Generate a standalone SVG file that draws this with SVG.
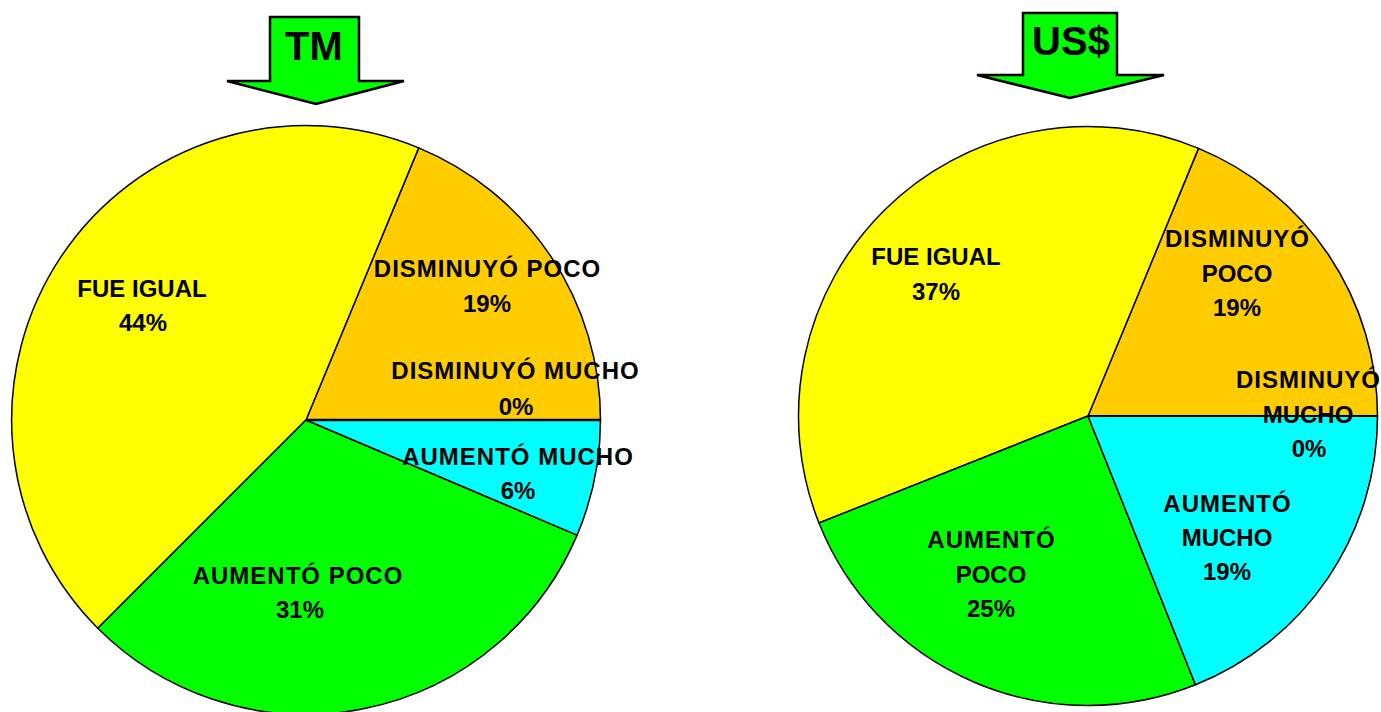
<svg xmlns="http://www.w3.org/2000/svg" width="1381" height="712" viewBox="0 0 1381 712">
<style>
.s{stroke:#000;stroke-width:1.5;stroke-linejoin:round}
.y{fill:#FFFF00}.o{fill:#FFCC00}.g{fill:#00FF00}.c{fill:#00FFFF}
.t{font-family:"Liberation Sans",Arial,sans-serif;font-weight:bold;font-size:24px;fill:#000;text-anchor:middle}
.w{letter-spacing:1px}
.a{fill:#00FF00;stroke:#000;stroke-width:2.5;stroke-linejoin:miter}
.h{font-family:"Liberation Sans",Arial,sans-serif;font-weight:bold;font-size:40px;fill:#000;text-anchor:middle}
</style>
<rect width="1381" height="712" fill="#fff"/>
<g id="arrow-tm">
<polygon class="a" points="270,17 359,17 359,81 404,81 316,104 227,81 270,81"/>
<text class="h" x="314" y="60">TM</text>
</g>
<g id="arrow-usd">
<polygon class="a" points="1023,13 1117,13 1117,75 1164,75 1070,98 977,75 1023,75"/>
<text class="h" x="1071" y="55">US$</text>
</g>
<g id="pie-tm">
<g id="tm-disminuyo-poco"><path class="s o" d="M306,420 L600.5,420 A294.5,294.5 0 0 0 418.7,147.9 Z"/></g>
<g id="tm-fue-igual"><path class="s y" d="M306,420 L418.7,147.9 A294.5,294.5 0 0 0 97.8,628.2 Z"/></g>
<g id="tm-aumento-poco"><path class="s g" d="M306,420 L97.8,628.2 A294.5,294.5 0 0 0 577.1,535.1 Z"/></g>
<g id="tm-aumento-mucho"><path class="s c" d="M306,420 L577.1,535.1 A294.5,294.5 0 0 0 600.5,420 Z"/></g>
<g id="tm-disminuyo-mucho"><path d="M306,420 L600.5,420" stroke="#000" stroke-width="2.5"/></g>
<text class="t w" x="487.5" y="277">DISMINUYÓ POCO</text>
<text class="t" x="487" y="311.5">19%</text>
<text class="t w" x="515.5" y="379">DISMINUYÓ MUCHO</text>
<text class="t" x="516" y="414.5">0%</text>
<text class="t w" x="518" y="465">AUMENTÓ MUCHO</text>
<text class="t" x="518" y="499">6%</text>
<text class="t" x="142" y="297">FUE IGUAL</text>
<text class="t" x="143" y="331">44%</text>
<text class="t w" x="298" y="584">AUMENTÓ POCO</text>
<text class="t" x="300" y="618">31%</text>
</g>
<g id="pie-usd">
<g id="usd-disminuyo-poco"><path class="s o" d="M1088,416 L1377.5,416 A289.5,289.5 0 0 0 1198.5,148.4 Z"/></g>
<g id="usd-fue-igual"><path class="s y" d="M1088,416 L1198.5,148.4 A289.5,289.5 0 0 0 819,523 Z"/></g>
<g id="usd-aumento-poco"><path class="s g" d="M1088,416 L819,523 A289.5,289.5 0 0 0 1195.5,684.8 Z"/></g>
<g id="usd-aumento-mucho"><path class="s c" d="M1088,416 L1195.5,684.8 A289.5,289.5 0 0 0 1377.5,416 Z"/></g>
<g id="usd-disminuyo-mucho"><path d="M1088,416 L1377.5,416" stroke="#000" stroke-width="2"/></g>
<text class="t" x="936" y="265">FUE IGUAL</text>
<text class="t" x="936" y="300">37%</text>
<text class="t w" x="1237.5" y="247">DISMINUYÓ</text>
<text class="t" x="1237" y="282">POCO</text>
<text class="t" x="1237" y="316">19%</text>
<text class="t w" x="1308.5" y="388">DISMINUYÓ</text>
<text class="t" x="1308" y="423">MUCHO</text>
<text class="t" x="1309" y="457">0%</text>
<text class="t w" x="1227.5" y="512">AUMENTÓ</text>
<text class="t" x="1227" y="546">MUCHO</text>
<text class="t" x="1227" y="580">19%</text>
<text class="t w" x="991.5" y="548">AUMENTÓ</text>
<text class="t" x="991" y="583">POCO</text>
<text class="t" x="991" y="617">25%</text>
</g>
</svg>
